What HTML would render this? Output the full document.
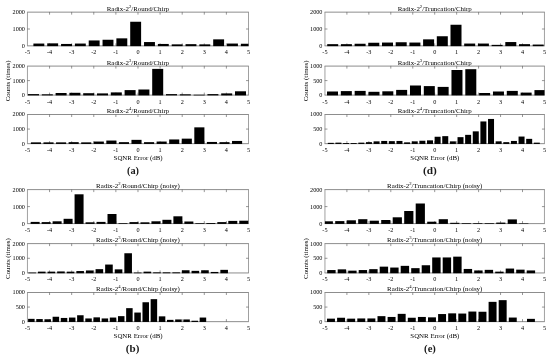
<!DOCTYPE html>
<html lang="en"><head><meta charset="utf-8"><title>SQNR Error histograms</title>
<style>
html,body{margin:0;padding:0;background:#fff;}
body{width:550px;height:360px;overflow:hidden;}
svg{display:block;will-change:transform;filter:grayscale(1);}
svg text{font-family:"Liberation Serif","DejaVu Serif",serif;fill:#000;}
.t{font-size:6.2px;}
.ti{font-size:6.9px;}
.sup{font-size:4.7px;}
.cap{font-size:10.5px;font-weight:bold;fill:#1a1a1a;}
.axh{fill:none;stroke:#808080;stroke-width:0.9;}
.axv{fill:none;stroke:#808080;stroke-width:0.75;}
.tk{stroke:#6a6a6a;stroke-width:0.7;}
.b{fill:#000;}
</style></head><body>
<svg width="550" height="360" viewBox="0 0 550 360">
<g>
<path class="axh" d="M27.1 12.15H248.85 M27.1 45.85H248.85"/>
<path class="axv" d="M27.45 12.15V45.85 M248.5 12.15V45.85"/>
<line class="tk" x1="49.55" y1="11.95" x2="49.55" y2="14.65"/>
<line class="tk" x1="49.55" y1="46.05" x2="49.55" y2="43.35"/>
<line class="tk" x1="71.66" y1="11.95" x2="71.66" y2="14.65"/>
<line class="tk" x1="71.66" y1="46.05" x2="71.66" y2="43.35"/>
<line class="tk" x1="93.77" y1="11.95" x2="93.77" y2="14.65"/>
<line class="tk" x1="93.77" y1="46.05" x2="93.77" y2="43.35"/>
<line class="tk" x1="115.87" y1="11.95" x2="115.87" y2="14.65"/>
<line class="tk" x1="115.87" y1="46.05" x2="115.87" y2="43.35"/>
<line class="tk" x1="137.97" y1="11.95" x2="137.97" y2="14.65"/>
<line class="tk" x1="137.97" y1="46.05" x2="137.97" y2="43.35"/>
<line class="tk" x1="160.08" y1="11.95" x2="160.08" y2="14.65"/>
<line class="tk" x1="160.08" y1="46.05" x2="160.08" y2="43.35"/>
<line class="tk" x1="182.19" y1="11.95" x2="182.19" y2="14.65"/>
<line class="tk" x1="182.19" y1="46.05" x2="182.19" y2="43.35"/>
<line class="tk" x1="204.29" y1="11.95" x2="204.29" y2="14.65"/>
<line class="tk" x1="204.29" y1="46.05" x2="204.29" y2="43.35"/>
<line class="tk" x1="226.39" y1="11.95" x2="226.39" y2="14.65"/>
<line class="tk" x1="226.39" y1="46.05" x2="226.39" y2="43.35"/>
<line class="tk" x1="27.25" y1="29" x2="29.95" y2="29"/>
<line class="tk" x1="248.7" y1="29" x2="246" y2="29"/>
<rect class="b" x="33.4" y="43.55" width="10.9" height="2.6"/>
<rect class="b" x="47.23" y="43.35" width="10.9" height="2.8"/>
<rect class="b" x="61.06" y="43.95" width="10.9" height="2.2"/>
<rect class="b" x="74.89" y="43.55" width="10.9" height="2.6"/>
<rect class="b" x="88.72" y="40.45" width="10.9" height="5.7"/>
<rect class="b" x="102.55" y="39.75" width="10.9" height="6.4"/>
<rect class="b" x="116.38" y="38.35" width="10.9" height="7.8"/>
<rect class="b" x="130.21" y="21.75" width="10.9" height="24.4"/>
<rect class="b" x="144.04" y="42.05" width="10.9" height="4.1"/>
<rect class="b" x="157.87" y="43.95" width="10.9" height="2.2"/>
<rect class="b" x="171.7" y="44.35" width="10.9" height="1.8"/>
<rect class="b" x="185.53" y="44.15" width="10.9" height="2"/>
<rect class="b" x="199.36" y="44.35" width="10.9" height="1.8"/>
<rect class="b" x="213.19" y="39.35" width="10.9" height="6.8"/>
<rect class="b" x="227.02" y="43.55" width="10.9" height="2.6"/>
<rect class="b" x="240.85" y="43.75" width="7.65" height="2.4"/>
<text class="t" x="27.45" y="53.95" text-anchor="middle">-5</text>
<text class="t" x="49.55" y="53.95" text-anchor="middle">-4</text>
<text class="t" x="71.66" y="53.95" text-anchor="middle">-3</text>
<text class="t" x="93.77" y="53.95" text-anchor="middle">-2</text>
<text class="t" x="115.87" y="53.95" text-anchor="middle">-1</text>
<text class="t" x="137.97" y="53.95" text-anchor="middle">0</text>
<text class="t" x="160.08" y="53.95" text-anchor="middle">1</text>
<text class="t" x="182.19" y="53.95" text-anchor="middle">2</text>
<text class="t" x="204.29" y="53.95" text-anchor="middle">3</text>
<text class="t" x="226.39" y="53.95" text-anchor="middle">4</text>
<text class="t" x="248.5" y="53.95" text-anchor="middle">5</text>
<text class="t" x="24.95" y="14.05" text-anchor="end">2000</text>
<text class="t" x="24.95" y="30.9" text-anchor="end">1000</text>
<text class="t" x="24.95" y="47.75" text-anchor="end">0</text>
<text class="ti" x="137.97" y="10.9" text-anchor="middle">Radix-2<tspan class="sup" dy="-2.9">2</tspan><tspan dy="2.9">/Round/Chirp</tspan></text>
</g>
<g>
<path class="axh" d="M27.1 66.1H248.85 M27.1 95.1H248.85"/>
<path class="axv" d="M27.45 66.1V95.1 M248.5 66.1V95.1"/>
<line class="tk" x1="49.55" y1="65.9" x2="49.55" y2="68.6"/>
<line class="tk" x1="49.55" y1="95.3" x2="49.55" y2="92.6"/>
<line class="tk" x1="71.66" y1="65.9" x2="71.66" y2="68.6"/>
<line class="tk" x1="71.66" y1="95.3" x2="71.66" y2="92.6"/>
<line class="tk" x1="93.77" y1="65.9" x2="93.77" y2="68.6"/>
<line class="tk" x1="93.77" y1="95.3" x2="93.77" y2="92.6"/>
<line class="tk" x1="115.87" y1="65.9" x2="115.87" y2="68.6"/>
<line class="tk" x1="115.87" y1="95.3" x2="115.87" y2="92.6"/>
<line class="tk" x1="137.97" y1="65.9" x2="137.97" y2="68.6"/>
<line class="tk" x1="137.97" y1="95.3" x2="137.97" y2="92.6"/>
<line class="tk" x1="160.08" y1="65.9" x2="160.08" y2="68.6"/>
<line class="tk" x1="160.08" y1="95.3" x2="160.08" y2="92.6"/>
<line class="tk" x1="182.19" y1="65.9" x2="182.19" y2="68.6"/>
<line class="tk" x1="182.19" y1="95.3" x2="182.19" y2="92.6"/>
<line class="tk" x1="204.29" y1="65.9" x2="204.29" y2="68.6"/>
<line class="tk" x1="204.29" y1="95.3" x2="204.29" y2="92.6"/>
<line class="tk" x1="226.39" y1="65.9" x2="226.39" y2="68.6"/>
<line class="tk" x1="226.39" y1="95.3" x2="226.39" y2="92.6"/>
<line class="tk" x1="27.25" y1="80.6" x2="29.95" y2="80.6"/>
<line class="tk" x1="248.7" y1="80.6" x2="246" y2="80.6"/>
<rect class="b" x="28" y="94.1" width="11" height="1.3"/>
<rect class="b" x="41.8" y="94.3" width="11" height="1.1"/>
<rect class="b" x="55.6" y="93" width="11" height="2.4"/>
<rect class="b" x="69.4" y="92.8" width="11" height="2.6"/>
<rect class="b" x="83.2" y="93.2" width="11" height="2.2"/>
<rect class="b" x="97" y="93.4" width="11" height="2"/>
<rect class="b" x="110.8" y="92.4" width="11" height="3"/>
<rect class="b" x="124.6" y="90.1" width="11" height="5.3"/>
<rect class="b" x="138.4" y="89.5" width="11" height="5.9"/>
<rect class="b" x="152.2" y="68.9" width="11" height="26.5"/>
<rect class="b" x="166" y="94.1" width="11" height="1.3"/>
<rect class="b" x="179.8" y="94.3" width="11" height="1.1"/>
<rect class="b" x="193.6" y="94.7" width="11" height="0.7"/>
<rect class="b" x="207.4" y="94.1" width="11" height="1.3"/>
<rect class="b" x="221.2" y="93.4" width="11" height="2"/>
<rect class="b" x="235" y="91.3" width="11" height="4.1"/>
<text class="t" x="27.45" y="103.55" text-anchor="middle">-5</text>
<text class="t" x="49.55" y="103.55" text-anchor="middle">-4</text>
<text class="t" x="71.66" y="103.55" text-anchor="middle">-3</text>
<text class="t" x="93.77" y="103.55" text-anchor="middle">-2</text>
<text class="t" x="115.87" y="103.55" text-anchor="middle">-1</text>
<text class="t" x="137.97" y="103.55" text-anchor="middle">0</text>
<text class="t" x="160.08" y="103.55" text-anchor="middle">1</text>
<text class="t" x="182.19" y="103.55" text-anchor="middle">2</text>
<text class="t" x="204.29" y="103.55" text-anchor="middle">3</text>
<text class="t" x="226.39" y="103.55" text-anchor="middle">4</text>
<text class="t" x="248.5" y="103.55" text-anchor="middle">5</text>
<text class="t" x="24.95" y="68" text-anchor="end">2000</text>
<text class="t" x="24.95" y="82.5" text-anchor="end">1000</text>
<text class="t" x="24.95" y="97" text-anchor="end">0</text>
<text class="ti" x="137.97" y="64.85" text-anchor="middle">Radix-2<tspan class="sup" dy="-2.9">3</tspan><tspan dy="2.9">/Round/Chirp</tspan></text>
</g>
<g>
<path class="axh" d="M27.1 114.5H248.85 M27.1 143.65H248.85"/>
<path class="axv" d="M27.45 114.5V143.65 M248.5 114.5V143.65"/>
<line class="tk" x1="49.55" y1="114.3" x2="49.55" y2="117"/>
<line class="tk" x1="49.55" y1="143.85" x2="49.55" y2="141.15"/>
<line class="tk" x1="71.66" y1="114.3" x2="71.66" y2="117"/>
<line class="tk" x1="71.66" y1="143.85" x2="71.66" y2="141.15"/>
<line class="tk" x1="93.77" y1="114.3" x2="93.77" y2="117"/>
<line class="tk" x1="93.77" y1="143.85" x2="93.77" y2="141.15"/>
<line class="tk" x1="115.87" y1="114.3" x2="115.87" y2="117"/>
<line class="tk" x1="115.87" y1="143.85" x2="115.87" y2="141.15"/>
<line class="tk" x1="137.97" y1="114.3" x2="137.97" y2="117"/>
<line class="tk" x1="137.97" y1="143.85" x2="137.97" y2="141.15"/>
<line class="tk" x1="160.08" y1="114.3" x2="160.08" y2="117"/>
<line class="tk" x1="160.08" y1="143.85" x2="160.08" y2="141.15"/>
<line class="tk" x1="182.19" y1="114.3" x2="182.19" y2="117"/>
<line class="tk" x1="182.19" y1="143.85" x2="182.19" y2="141.15"/>
<line class="tk" x1="204.29" y1="114.3" x2="204.29" y2="117"/>
<line class="tk" x1="204.29" y1="143.85" x2="204.29" y2="141.15"/>
<line class="tk" x1="226.39" y1="114.3" x2="226.39" y2="117"/>
<line class="tk" x1="226.39" y1="143.85" x2="226.39" y2="141.15"/>
<line class="tk" x1="27.25" y1="129.07" x2="29.95" y2="129.07"/>
<line class="tk" x1="248.7" y1="129.07" x2="246" y2="129.07"/>
<rect class="b" x="30.9" y="142.35" width="10.1" height="1.6"/>
<rect class="b" x="43.47" y="142.35" width="10.1" height="1.6"/>
<rect class="b" x="56.04" y="142.35" width="10.1" height="1.6"/>
<rect class="b" x="68.61" y="142.15" width="10.1" height="1.8"/>
<rect class="b" x="81.18" y="142.35" width="10.1" height="1.6"/>
<rect class="b" x="93.75" y="141.55" width="10.1" height="2.4"/>
<rect class="b" x="106.32" y="140.55" width="10.1" height="3.4"/>
<rect class="b" x="118.89" y="142.15" width="10.1" height="1.8"/>
<rect class="b" x="131.46" y="139.85" width="10.1" height="4.1"/>
<rect class="b" x="144.03" y="142.15" width="10.1" height="1.8"/>
<rect class="b" x="156.6" y="141.55" width="10.1" height="2.4"/>
<rect class="b" x="169.17" y="139.45" width="10.1" height="4.5"/>
<rect class="b" x="181.74" y="138.65" width="10.1" height="5.3"/>
<rect class="b" x="194.31" y="127.35" width="10.1" height="16.6"/>
<rect class="b" x="206.88" y="141.95" width="10.1" height="2"/>
<rect class="b" x="219.45" y="142.15" width="10.1" height="1.8"/>
<rect class="b" x="232.02" y="140.95" width="10.1" height="3"/>
<text class="t" x="27.45" y="152.1" text-anchor="middle">-5</text>
<text class="t" x="49.55" y="152.1" text-anchor="middle">-4</text>
<text class="t" x="71.66" y="152.1" text-anchor="middle">-3</text>
<text class="t" x="93.77" y="152.1" text-anchor="middle">-2</text>
<text class="t" x="115.87" y="152.1" text-anchor="middle">-1</text>
<text class="t" x="137.97" y="152.1" text-anchor="middle">0</text>
<text class="t" x="160.08" y="152.1" text-anchor="middle">1</text>
<text class="t" x="182.19" y="152.1" text-anchor="middle">2</text>
<text class="t" x="204.29" y="152.1" text-anchor="middle">3</text>
<text class="t" x="226.39" y="152.1" text-anchor="middle">4</text>
<text class="t" x="248.5" y="152.1" text-anchor="middle">5</text>
<text class="t" x="24.95" y="116.4" text-anchor="end">2000</text>
<text class="t" x="24.95" y="130.97" text-anchor="end">1000</text>
<text class="t" x="24.95" y="145.55" text-anchor="end">0</text>
<text class="ti" x="137.97" y="113.25" text-anchor="middle">Radix-2<tspan class="sup" dy="-2.9">4</tspan><tspan dy="2.9">/Round/Chirp</tspan></text>
</g>
<g>
<path class="axh" d="M324.6 12.15H544.8 M324.6 45.85H544.8"/>
<path class="axv" d="M324.95 12.15V45.85 M544.45 12.15V45.85"/>
<line class="tk" x1="346.9" y1="11.95" x2="346.9" y2="14.65"/>
<line class="tk" x1="346.9" y1="46.05" x2="346.9" y2="43.35"/>
<line class="tk" x1="368.85" y1="11.95" x2="368.85" y2="14.65"/>
<line class="tk" x1="368.85" y1="46.05" x2="368.85" y2="43.35"/>
<line class="tk" x1="390.8" y1="11.95" x2="390.8" y2="14.65"/>
<line class="tk" x1="390.8" y1="46.05" x2="390.8" y2="43.35"/>
<line class="tk" x1="412.75" y1="11.95" x2="412.75" y2="14.65"/>
<line class="tk" x1="412.75" y1="46.05" x2="412.75" y2="43.35"/>
<line class="tk" x1="434.7" y1="11.95" x2="434.7" y2="14.65"/>
<line class="tk" x1="434.7" y1="46.05" x2="434.7" y2="43.35"/>
<line class="tk" x1="456.65" y1="11.95" x2="456.65" y2="14.65"/>
<line class="tk" x1="456.65" y1="46.05" x2="456.65" y2="43.35"/>
<line class="tk" x1="478.6" y1="11.95" x2="478.6" y2="14.65"/>
<line class="tk" x1="478.6" y1="46.05" x2="478.6" y2="43.35"/>
<line class="tk" x1="500.55" y1="11.95" x2="500.55" y2="14.65"/>
<line class="tk" x1="500.55" y1="46.05" x2="500.55" y2="43.35"/>
<line class="tk" x1="522.5" y1="11.95" x2="522.5" y2="14.65"/>
<line class="tk" x1="522.5" y1="46.05" x2="522.5" y2="43.35"/>
<line class="tk" x1="324.75" y1="29" x2="327.45" y2="29"/>
<line class="tk" x1="544.65" y1="29" x2="541.95" y2="29"/>
<rect class="b" x="327.2" y="44.15" width="11" height="2"/>
<rect class="b" x="340.9" y="44.15" width="11" height="2"/>
<rect class="b" x="354.6" y="43.75" width="11" height="2.4"/>
<rect class="b" x="368.3" y="42.75" width="11" height="3.4"/>
<rect class="b" x="382" y="42.55" width="11" height="3.6"/>
<rect class="b" x="395.7" y="42.25" width="11" height="3.9"/>
<rect class="b" x="409.4" y="42.55" width="11" height="3.6"/>
<rect class="b" x="423.1" y="39.35" width="11" height="6.8"/>
<rect class="b" x="436.8" y="36.25" width="11" height="9.9"/>
<rect class="b" x="450.5" y="24.75" width="11" height="21.4"/>
<rect class="b" x="464.2" y="43.55" width="11" height="2.6"/>
<rect class="b" x="477.9" y="43.55" width="11" height="2.6"/>
<rect class="b" x="491.6" y="44.85" width="11" height="1.3"/>
<rect class="b" x="505.3" y="42.05" width="11" height="4.1"/>
<rect class="b" x="519" y="44.15" width="11" height="2"/>
<rect class="b" x="532.7" y="44.55" width="11" height="1.6"/>
<text class="t" x="324.95" y="53.95" text-anchor="middle">-5</text>
<text class="t" x="346.9" y="53.95" text-anchor="middle">-4</text>
<text class="t" x="368.85" y="53.95" text-anchor="middle">-3</text>
<text class="t" x="390.8" y="53.95" text-anchor="middle">-2</text>
<text class="t" x="412.75" y="53.95" text-anchor="middle">-1</text>
<text class="t" x="434.7" y="53.95" text-anchor="middle">0</text>
<text class="t" x="456.65" y="53.95" text-anchor="middle">1</text>
<text class="t" x="478.6" y="53.95" text-anchor="middle">2</text>
<text class="t" x="500.55" y="53.95" text-anchor="middle">3</text>
<text class="t" x="522.5" y="53.95" text-anchor="middle">4</text>
<text class="t" x="544.45" y="53.95" text-anchor="middle">5</text>
<text class="t" x="322.45" y="14.05" text-anchor="end">2000</text>
<text class="t" x="322.45" y="30.9" text-anchor="end">1000</text>
<text class="t" x="322.45" y="47.75" text-anchor="end">0</text>
<text class="ti" x="434.7" y="10.9" text-anchor="middle">Radix-2<tspan class="sup" dy="-2.9">2</tspan><tspan dy="2.9">/Truncation/Chirp</tspan></text>
</g>
<g>
<path class="axh" d="M324.6 66.1H544.8 M324.6 95.1H544.8"/>
<path class="axv" d="M324.95 66.1V95.1 M544.45 66.1V95.1"/>
<line class="tk" x1="346.9" y1="65.9" x2="346.9" y2="68.6"/>
<line class="tk" x1="346.9" y1="95.3" x2="346.9" y2="92.6"/>
<line class="tk" x1="368.85" y1="65.9" x2="368.85" y2="68.6"/>
<line class="tk" x1="368.85" y1="95.3" x2="368.85" y2="92.6"/>
<line class="tk" x1="390.8" y1="65.9" x2="390.8" y2="68.6"/>
<line class="tk" x1="390.8" y1="95.3" x2="390.8" y2="92.6"/>
<line class="tk" x1="412.75" y1="65.9" x2="412.75" y2="68.6"/>
<line class="tk" x1="412.75" y1="95.3" x2="412.75" y2="92.6"/>
<line class="tk" x1="434.7" y1="65.9" x2="434.7" y2="68.6"/>
<line class="tk" x1="434.7" y1="95.3" x2="434.7" y2="92.6"/>
<line class="tk" x1="456.65" y1="65.9" x2="456.65" y2="68.6"/>
<line class="tk" x1="456.65" y1="95.3" x2="456.65" y2="92.6"/>
<line class="tk" x1="478.6" y1="65.9" x2="478.6" y2="68.6"/>
<line class="tk" x1="478.6" y1="95.3" x2="478.6" y2="92.6"/>
<line class="tk" x1="500.55" y1="65.9" x2="500.55" y2="68.6"/>
<line class="tk" x1="500.55" y1="95.3" x2="500.55" y2="92.6"/>
<line class="tk" x1="522.5" y1="65.9" x2="522.5" y2="68.6"/>
<line class="tk" x1="522.5" y1="95.3" x2="522.5" y2="92.6"/>
<line class="tk" x1="324.75" y1="80.6" x2="327.45" y2="80.6"/>
<line class="tk" x1="544.65" y1="80.6" x2="541.95" y2="80.6"/>
<rect class="b" x="327" y="91.5" width="11" height="3.9"/>
<rect class="b" x="340.83" y="91.1" width="11" height="4.3"/>
<rect class="b" x="354.66" y="90.9" width="11" height="4.5"/>
<rect class="b" x="368.49" y="91.8" width="11" height="3.6"/>
<rect class="b" x="382.32" y="91.3" width="11" height="4.1"/>
<rect class="b" x="396.15" y="89.9" width="11" height="5.5"/>
<rect class="b" x="409.98" y="85.5" width="11" height="9.9"/>
<rect class="b" x="423.81" y="86.1" width="11" height="9.3"/>
<rect class="b" x="437.64" y="86.9" width="11" height="8.5"/>
<rect class="b" x="451.47" y="70" width="11" height="25.4"/>
<rect class="b" x="465.3" y="69.2" width="11" height="26.2"/>
<rect class="b" x="479.13" y="93" width="11" height="2.4"/>
<rect class="b" x="492.96" y="91.5" width="11" height="3.9"/>
<rect class="b" x="506.79" y="90.9" width="11" height="4.5"/>
<rect class="b" x="520.62" y="92.6" width="11" height="2.8"/>
<rect class="b" x="534.45" y="90.1" width="10" height="5.3"/>
<text class="t" x="324.95" y="103.55" text-anchor="middle">-5</text>
<text class="t" x="346.9" y="103.55" text-anchor="middle">-4</text>
<text class="t" x="368.85" y="103.55" text-anchor="middle">-3</text>
<text class="t" x="390.8" y="103.55" text-anchor="middle">-2</text>
<text class="t" x="412.75" y="103.55" text-anchor="middle">-1</text>
<text class="t" x="434.7" y="103.55" text-anchor="middle">0</text>
<text class="t" x="456.65" y="103.55" text-anchor="middle">1</text>
<text class="t" x="478.6" y="103.55" text-anchor="middle">2</text>
<text class="t" x="500.55" y="103.55" text-anchor="middle">3</text>
<text class="t" x="522.5" y="103.55" text-anchor="middle">4</text>
<text class="t" x="544.45" y="103.55" text-anchor="middle">5</text>
<text class="t" x="322.45" y="68" text-anchor="end">1000</text>
<text class="t" x="322.45" y="82.5" text-anchor="end">500</text>
<text class="t" x="322.45" y="97" text-anchor="end">0</text>
<text class="ti" x="434.7" y="64.85" text-anchor="middle">Radix-2<tspan class="sup" dy="-2.9">3</tspan><tspan dy="2.9">/Truncation/Chirp</tspan></text>
</g>
<g>
<path class="axh" d="M324.6 114.5H544.8 M324.6 143.65H544.8"/>
<path class="axv" d="M324.95 114.5V143.65 M544.45 114.5V143.65"/>
<line class="tk" x1="346.9" y1="114.3" x2="346.9" y2="117"/>
<line class="tk" x1="346.9" y1="143.85" x2="346.9" y2="141.15"/>
<line class="tk" x1="368.85" y1="114.3" x2="368.85" y2="117"/>
<line class="tk" x1="368.85" y1="143.85" x2="368.85" y2="141.15"/>
<line class="tk" x1="390.8" y1="114.3" x2="390.8" y2="117"/>
<line class="tk" x1="390.8" y1="143.85" x2="390.8" y2="141.15"/>
<line class="tk" x1="412.75" y1="114.3" x2="412.75" y2="117"/>
<line class="tk" x1="412.75" y1="143.85" x2="412.75" y2="141.15"/>
<line class="tk" x1="434.7" y1="114.3" x2="434.7" y2="117"/>
<line class="tk" x1="434.7" y1="143.85" x2="434.7" y2="141.15"/>
<line class="tk" x1="456.65" y1="114.3" x2="456.65" y2="117"/>
<line class="tk" x1="456.65" y1="143.85" x2="456.65" y2="141.15"/>
<line class="tk" x1="478.6" y1="114.3" x2="478.6" y2="117"/>
<line class="tk" x1="478.6" y1="143.85" x2="478.6" y2="141.15"/>
<line class="tk" x1="500.55" y1="114.3" x2="500.55" y2="117"/>
<line class="tk" x1="500.55" y1="143.85" x2="500.55" y2="141.15"/>
<line class="tk" x1="522.5" y1="114.3" x2="522.5" y2="117"/>
<line class="tk" x1="522.5" y1="143.85" x2="522.5" y2="141.15"/>
<line class="tk" x1="324.75" y1="129.07" x2="327.45" y2="129.07"/>
<line class="tk" x1="544.65" y1="129.07" x2="541.95" y2="129.07"/>
<rect class="b" x="327.8" y="142.85" width="6" height="1.1"/>
<rect class="b" x="335.43" y="142.65" width="6" height="1.3"/>
<rect class="b" x="343.06" y="143.05" width="6" height="0.9"/>
<rect class="b" x="350.69" y="143.05" width="6" height="0.9"/>
<rect class="b" x="358.32" y="142.65" width="6" height="1.3"/>
<rect class="b" x="365.95" y="142.15" width="6" height="1.8"/>
<rect class="b" x="373.58" y="141.35" width="6" height="2.6"/>
<rect class="b" x="381.21" y="140.95" width="6" height="3"/>
<rect class="b" x="388.84" y="141.15" width="6" height="2.8"/>
<rect class="b" x="396.47" y="140.95" width="6" height="3"/>
<rect class="b" x="404.1" y="142.35" width="6" height="1.6"/>
<rect class="b" x="411.73" y="141.35" width="6" height="2.6"/>
<rect class="b" x="419.36" y="140.75" width="6" height="3.2"/>
<rect class="b" x="426.99" y="140.35" width="6" height="3.6"/>
<rect class="b" x="434.62" y="136.75" width="6" height="7.2"/>
<rect class="b" x="442.25" y="136.15" width="6" height="7.8"/>
<rect class="b" x="449.88" y="141.35" width="6" height="2.6"/>
<rect class="b" x="457.51" y="137.15" width="6" height="6.8"/>
<rect class="b" x="465.14" y="134.85" width="6" height="9.1"/>
<rect class="b" x="472.77" y="131.35" width="6" height="12.6"/>
<rect class="b" x="480.4" y="121.45" width="6" height="22.5"/>
<rect class="b" x="488.03" y="118.95" width="6" height="25"/>
<rect class="b" x="495.66" y="141.35" width="6" height="2.6"/>
<rect class="b" x="503.29" y="142.15" width="6" height="1.8"/>
<rect class="b" x="510.92" y="140.95" width="6" height="3"/>
<rect class="b" x="518.55" y="136.55" width="6" height="7.4"/>
<rect class="b" x="526.18" y="138.85" width="6" height="5.1"/>
<rect class="b" x="533.81" y="142.65" width="6" height="1.3"/>
<text class="t" x="324.95" y="152.1" text-anchor="middle">-5</text>
<text class="t" x="346.9" y="152.1" text-anchor="middle">-4</text>
<text class="t" x="368.85" y="152.1" text-anchor="middle">-3</text>
<text class="t" x="390.8" y="152.1" text-anchor="middle">-2</text>
<text class="t" x="412.75" y="152.1" text-anchor="middle">-1</text>
<text class="t" x="434.7" y="152.1" text-anchor="middle">0</text>
<text class="t" x="456.65" y="152.1" text-anchor="middle">1</text>
<text class="t" x="478.6" y="152.1" text-anchor="middle">2</text>
<text class="t" x="500.55" y="152.1" text-anchor="middle">3</text>
<text class="t" x="522.5" y="152.1" text-anchor="middle">4</text>
<text class="t" x="544.45" y="152.1" text-anchor="middle">5</text>
<text class="t" x="322.45" y="116.4" text-anchor="end">1000</text>
<text class="t" x="322.45" y="130.97" text-anchor="end">500</text>
<text class="t" x="322.45" y="145.55" text-anchor="end">0</text>
<text class="ti" x="434.7" y="113.25" text-anchor="middle">Radix-2<tspan class="sup" dy="-2.9">4</tspan><tspan dy="2.9">/Truncation/Chirp</tspan></text>
</g>
<g>
<path class="axh" d="M27.1 189.6H248.85 M27.1 223.6H248.85"/>
<path class="axv" d="M27.45 189.6V223.6 M248.5 189.6V223.6"/>
<line class="tk" x1="49.55" y1="189.4" x2="49.55" y2="192.1"/>
<line class="tk" x1="49.55" y1="223.8" x2="49.55" y2="221.1"/>
<line class="tk" x1="71.66" y1="189.4" x2="71.66" y2="192.1"/>
<line class="tk" x1="71.66" y1="223.8" x2="71.66" y2="221.1"/>
<line class="tk" x1="93.77" y1="189.4" x2="93.77" y2="192.1"/>
<line class="tk" x1="93.77" y1="223.8" x2="93.77" y2="221.1"/>
<line class="tk" x1="115.87" y1="189.4" x2="115.87" y2="192.1"/>
<line class="tk" x1="115.87" y1="223.8" x2="115.87" y2="221.1"/>
<line class="tk" x1="137.97" y1="189.4" x2="137.97" y2="192.1"/>
<line class="tk" x1="137.97" y1="223.8" x2="137.97" y2="221.1"/>
<line class="tk" x1="160.08" y1="189.4" x2="160.08" y2="192.1"/>
<line class="tk" x1="160.08" y1="223.8" x2="160.08" y2="221.1"/>
<line class="tk" x1="182.19" y1="189.4" x2="182.19" y2="192.1"/>
<line class="tk" x1="182.19" y1="223.8" x2="182.19" y2="221.1"/>
<line class="tk" x1="204.29" y1="189.4" x2="204.29" y2="192.1"/>
<line class="tk" x1="204.29" y1="223.8" x2="204.29" y2="221.1"/>
<line class="tk" x1="226.39" y1="189.4" x2="226.39" y2="192.1"/>
<line class="tk" x1="226.39" y1="223.8" x2="226.39" y2="221.1"/>
<line class="tk" x1="27.25" y1="206.6" x2="29.95" y2="206.6"/>
<line class="tk" x1="248.7" y1="206.6" x2="246" y2="206.6"/>
<rect class="b" x="30.65" y="221.9" width="9" height="2"/>
<rect class="b" x="41.63" y="222.1" width="9" height="1.8"/>
<rect class="b" x="52.61" y="221.3" width="9" height="2.6"/>
<rect class="b" x="63.59" y="218.8" width="9" height="5.1"/>
<rect class="b" x="74.57" y="194.3" width="9" height="29.6"/>
<rect class="b" x="85.55" y="222.3" width="9" height="1.6"/>
<rect class="b" x="96.53" y="221.9" width="9" height="2"/>
<rect class="b" x="107.51" y="214" width="9" height="9.9"/>
<rect class="b" x="118.49" y="223.2" width="9" height="0.7"/>
<rect class="b" x="129.47" y="222.1" width="9" height="1.8"/>
<rect class="b" x="140.45" y="222.3" width="9" height="1.6"/>
<rect class="b" x="151.43" y="221.3" width="9" height="2.6"/>
<rect class="b" x="162.41" y="219.8" width="9" height="4.1"/>
<rect class="b" x="173.39" y="216.3" width="9" height="7.6"/>
<rect class="b" x="184.37" y="221.5" width="9" height="2.4"/>
<rect class="b" x="195.35" y="223.2" width="9" height="0.7"/>
<rect class="b" x="206.33" y="223" width="9" height="0.9"/>
<rect class="b" x="217.31" y="222.1" width="9" height="1.8"/>
<rect class="b" x="228.29" y="220.9" width="9" height="3"/>
<rect class="b" x="239.27" y="220.7" width="9" height="3.2"/>
<text class="t" x="27.45" y="232.05" text-anchor="middle">-5</text>
<text class="t" x="49.55" y="232.05" text-anchor="middle">-4</text>
<text class="t" x="71.66" y="232.05" text-anchor="middle">-3</text>
<text class="t" x="93.77" y="232.05" text-anchor="middle">-2</text>
<text class="t" x="115.87" y="232.05" text-anchor="middle">-1</text>
<text class="t" x="137.97" y="232.05" text-anchor="middle">0</text>
<text class="t" x="160.08" y="232.05" text-anchor="middle">1</text>
<text class="t" x="182.19" y="232.05" text-anchor="middle">2</text>
<text class="t" x="204.29" y="232.05" text-anchor="middle">3</text>
<text class="t" x="226.39" y="232.05" text-anchor="middle">4</text>
<text class="t" x="248.5" y="232.05" text-anchor="middle">5</text>
<text class="t" x="24.95" y="191.5" text-anchor="end">2000</text>
<text class="t" x="24.95" y="208.5" text-anchor="end">1000</text>
<text class="t" x="24.95" y="225.5" text-anchor="end">0</text>
<text class="ti" x="137.97" y="188.35" text-anchor="middle">Radix-2<tspan class="sup" dy="-2.9">2</tspan><tspan dy="2.9">/Round/Chirp (noisy)</tspan></text>
</g>
<g>
<path class="axh" d="M27.1 243.6H248.85 M27.1 272.95H248.85"/>
<path class="axv" d="M27.45 243.6V272.95 M248.5 243.6V272.95"/>
<line class="tk" x1="49.55" y1="243.4" x2="49.55" y2="246.1"/>
<line class="tk" x1="49.55" y1="273.15" x2="49.55" y2="270.45"/>
<line class="tk" x1="71.66" y1="243.4" x2="71.66" y2="246.1"/>
<line class="tk" x1="71.66" y1="273.15" x2="71.66" y2="270.45"/>
<line class="tk" x1="93.77" y1="243.4" x2="93.77" y2="246.1"/>
<line class="tk" x1="93.77" y1="273.15" x2="93.77" y2="270.45"/>
<line class="tk" x1="115.87" y1="243.4" x2="115.87" y2="246.1"/>
<line class="tk" x1="115.87" y1="273.15" x2="115.87" y2="270.45"/>
<line class="tk" x1="137.97" y1="243.4" x2="137.97" y2="246.1"/>
<line class="tk" x1="137.97" y1="273.15" x2="137.97" y2="270.45"/>
<line class="tk" x1="160.08" y1="243.4" x2="160.08" y2="246.1"/>
<line class="tk" x1="160.08" y1="273.15" x2="160.08" y2="270.45"/>
<line class="tk" x1="182.19" y1="243.4" x2="182.19" y2="246.1"/>
<line class="tk" x1="182.19" y1="273.15" x2="182.19" y2="270.45"/>
<line class="tk" x1="204.29" y1="243.4" x2="204.29" y2="246.1"/>
<line class="tk" x1="204.29" y1="273.15" x2="204.29" y2="270.45"/>
<line class="tk" x1="226.39" y1="243.4" x2="226.39" y2="246.1"/>
<line class="tk" x1="226.39" y1="273.15" x2="226.39" y2="270.45"/>
<line class="tk" x1="27.25" y1="258.27" x2="29.95" y2="258.27"/>
<line class="tk" x1="248.7" y1="258.27" x2="246" y2="258.27"/>
<rect class="b" x="28.35" y="272.55" width="7.6" height="0.7"/>
<rect class="b" x="37.95" y="271.65" width="7.6" height="1.6"/>
<rect class="b" x="47.55" y="271.65" width="7.6" height="1.6"/>
<rect class="b" x="57.15" y="271.45" width="7.6" height="1.8"/>
<rect class="b" x="66.75" y="271.65" width="7.6" height="1.6"/>
<rect class="b" x="76.35" y="271.05" width="7.6" height="2.2"/>
<rect class="b" x="85.95" y="270.45" width="7.6" height="2.8"/>
<rect class="b" x="95.55" y="269.15" width="7.6" height="4.1"/>
<rect class="b" x="105.15" y="264.55" width="7.6" height="8.7"/>
<rect class="b" x="114.75" y="269.35" width="7.6" height="3.9"/>
<rect class="b" x="124.35" y="253.25" width="7.6" height="20"/>
<rect class="b" x="133.95" y="272.55" width="7.6" height="0.7"/>
<rect class="b" x="143.55" y="271.65" width="7.6" height="1.6"/>
<rect class="b" x="153.15" y="272.35" width="7.6" height="0.9"/>
<rect class="b" x="162.75" y="272.35" width="7.6" height="0.9"/>
<rect class="b" x="172.35" y="272.35" width="7.6" height="0.9"/>
<rect class="b" x="181.95" y="270.25" width="7.6" height="3"/>
<rect class="b" x="191.55" y="270.85" width="7.6" height="2.4"/>
<rect class="b" x="201.15" y="270.25" width="7.6" height="3"/>
<rect class="b" x="210.75" y="271.95" width="7.6" height="1.3"/>
<rect class="b" x="220.35" y="269.85" width="7.6" height="3.4"/>
<text class="t" x="27.45" y="281.4" text-anchor="middle">-5</text>
<text class="t" x="49.55" y="281.4" text-anchor="middle">-4</text>
<text class="t" x="71.66" y="281.4" text-anchor="middle">-3</text>
<text class="t" x="93.77" y="281.4" text-anchor="middle">-2</text>
<text class="t" x="115.87" y="281.4" text-anchor="middle">-1</text>
<text class="t" x="137.97" y="281.4" text-anchor="middle">0</text>
<text class="t" x="160.08" y="281.4" text-anchor="middle">1</text>
<text class="t" x="182.19" y="281.4" text-anchor="middle">2</text>
<text class="t" x="204.29" y="281.4" text-anchor="middle">3</text>
<text class="t" x="226.39" y="281.4" text-anchor="middle">4</text>
<text class="t" x="248.5" y="281.4" text-anchor="middle">5</text>
<text class="t" x="24.95" y="245.5" text-anchor="end">2000</text>
<text class="t" x="24.95" y="260.17" text-anchor="end">1000</text>
<text class="t" x="24.95" y="274.85" text-anchor="end">0</text>
<text class="ti" x="137.97" y="242.35" text-anchor="middle">Radix-2<tspan class="sup" dy="-2.9">3</tspan><tspan dy="2.9">/Round/Chirp (noisy)</tspan></text>
</g>
<g>
<path class="axh" d="M27.1 292.5H248.85 M27.1 321.65H248.85"/>
<path class="axv" d="M27.45 292.5V321.65 M248.5 292.5V321.65"/>
<line class="tk" x1="49.55" y1="292.3" x2="49.55" y2="295"/>
<line class="tk" x1="49.55" y1="321.85" x2="49.55" y2="319.15"/>
<line class="tk" x1="71.66" y1="292.3" x2="71.66" y2="295"/>
<line class="tk" x1="71.66" y1="321.85" x2="71.66" y2="319.15"/>
<line class="tk" x1="93.77" y1="292.3" x2="93.77" y2="295"/>
<line class="tk" x1="93.77" y1="321.85" x2="93.77" y2="319.15"/>
<line class="tk" x1="115.87" y1="292.3" x2="115.87" y2="295"/>
<line class="tk" x1="115.87" y1="321.85" x2="115.87" y2="319.15"/>
<line class="tk" x1="137.97" y1="292.3" x2="137.97" y2="295"/>
<line class="tk" x1="137.97" y1="321.85" x2="137.97" y2="319.15"/>
<line class="tk" x1="160.08" y1="292.3" x2="160.08" y2="295"/>
<line class="tk" x1="160.08" y1="321.85" x2="160.08" y2="319.15"/>
<line class="tk" x1="182.19" y1="292.3" x2="182.19" y2="295"/>
<line class="tk" x1="182.19" y1="321.85" x2="182.19" y2="319.15"/>
<line class="tk" x1="204.29" y1="292.3" x2="204.29" y2="295"/>
<line class="tk" x1="204.29" y1="321.85" x2="204.29" y2="319.15"/>
<line class="tk" x1="226.39" y1="292.3" x2="226.39" y2="295"/>
<line class="tk" x1="226.39" y1="321.85" x2="226.39" y2="319.15"/>
<line class="tk" x1="27.25" y1="307.07" x2="29.95" y2="307.07"/>
<line class="tk" x1="248.7" y1="307.07" x2="246" y2="307.07"/>
<rect class="b" x="28.1" y="318.85" width="6.5" height="3.1"/>
<rect class="b" x="36.27" y="319.05" width="6.5" height="2.9"/>
<rect class="b" x="44.44" y="319.25" width="6.5" height="2.7"/>
<rect class="b" x="52.61" y="316.75" width="6.5" height="5.2"/>
<rect class="b" x="60.78" y="317.95" width="6.5" height="4"/>
<rect class="b" x="68.95" y="317.55" width="6.5" height="4.4"/>
<rect class="b" x="77.12" y="315.25" width="6.5" height="6.7"/>
<rect class="b" x="85.29" y="318.45" width="6.5" height="3.5"/>
<rect class="b" x="93.46" y="317.35" width="6.5" height="4.6"/>
<rect class="b" x="101.63" y="318.45" width="6.5" height="3.5"/>
<rect class="b" x="109.8" y="317.55" width="6.5" height="4.4"/>
<rect class="b" x="117.97" y="316.15" width="6.5" height="5.8"/>
<rect class="b" x="126.14" y="308.15" width="6.5" height="13.8"/>
<rect class="b" x="134.31" y="312.55" width="6.5" height="9.4"/>
<rect class="b" x="142.48" y="302.25" width="6.5" height="19.7"/>
<rect class="b" x="150.65" y="299.15" width="6.5" height="22.8"/>
<rect class="b" x="158.82" y="316.35" width="6.5" height="5.6"/>
<rect class="b" x="166.99" y="319.85" width="6.5" height="2.1"/>
<rect class="b" x="175.16" y="319.45" width="6.5" height="2.5"/>
<rect class="b" x="183.33" y="319.45" width="6.5" height="2.5"/>
<rect class="b" x="191.5" y="320.75" width="6.5" height="1.2"/>
<rect class="b" x="199.67" y="317.55" width="6.5" height="4.4"/>
<text class="t" x="27.45" y="330.1" text-anchor="middle">-5</text>
<text class="t" x="49.55" y="330.1" text-anchor="middle">-4</text>
<text class="t" x="71.66" y="330.1" text-anchor="middle">-3</text>
<text class="t" x="93.77" y="330.1" text-anchor="middle">-2</text>
<text class="t" x="115.87" y="330.1" text-anchor="middle">-1</text>
<text class="t" x="137.97" y="330.1" text-anchor="middle">0</text>
<text class="t" x="160.08" y="330.1" text-anchor="middle">1</text>
<text class="t" x="182.19" y="330.1" text-anchor="middle">2</text>
<text class="t" x="204.29" y="330.1" text-anchor="middle">3</text>
<text class="t" x="226.39" y="330.1" text-anchor="middle">4</text>
<text class="t" x="248.5" y="330.1" text-anchor="middle">5</text>
<text class="t" x="24.95" y="294.4" text-anchor="end">1000</text>
<text class="t" x="24.95" y="308.97" text-anchor="end">500</text>
<text class="t" x="24.95" y="323.55" text-anchor="end">0</text>
<text class="ti" x="137.97" y="291.25" text-anchor="middle">Radix-2<tspan class="sup" dy="-2.9">4</tspan><tspan dy="2.9">/Round/Chirp (noisy)</tspan></text>
</g>
<g>
<path class="axh" d="M324.6 189.6H544.8 M324.6 223.6H544.8"/>
<path class="axv" d="M324.95 189.6V223.6 M544.45 189.6V223.6"/>
<line class="tk" x1="346.9" y1="189.4" x2="346.9" y2="192.1"/>
<line class="tk" x1="346.9" y1="223.8" x2="346.9" y2="221.1"/>
<line class="tk" x1="368.85" y1="189.4" x2="368.85" y2="192.1"/>
<line class="tk" x1="368.85" y1="223.8" x2="368.85" y2="221.1"/>
<line class="tk" x1="390.8" y1="189.4" x2="390.8" y2="192.1"/>
<line class="tk" x1="390.8" y1="223.8" x2="390.8" y2="221.1"/>
<line class="tk" x1="412.75" y1="189.4" x2="412.75" y2="192.1"/>
<line class="tk" x1="412.75" y1="223.8" x2="412.75" y2="221.1"/>
<line class="tk" x1="434.7" y1="189.4" x2="434.7" y2="192.1"/>
<line class="tk" x1="434.7" y1="223.8" x2="434.7" y2="221.1"/>
<line class="tk" x1="456.65" y1="189.4" x2="456.65" y2="192.1"/>
<line class="tk" x1="456.65" y1="223.8" x2="456.65" y2="221.1"/>
<line class="tk" x1="478.6" y1="189.4" x2="478.6" y2="192.1"/>
<line class="tk" x1="478.6" y1="223.8" x2="478.6" y2="221.1"/>
<line class="tk" x1="500.55" y1="189.4" x2="500.55" y2="192.1"/>
<line class="tk" x1="500.55" y1="223.8" x2="500.55" y2="221.1"/>
<line class="tk" x1="522.5" y1="189.4" x2="522.5" y2="192.1"/>
<line class="tk" x1="522.5" y1="223.8" x2="522.5" y2="221.1"/>
<line class="tk" x1="324.75" y1="206.6" x2="327.45" y2="206.6"/>
<line class="tk" x1="544.65" y1="206.6" x2="541.95" y2="206.6"/>
<rect class="b" x="324.95" y="221.3" width="7.95" height="2.6"/>
<rect class="b" x="335.2" y="221.1" width="9.2" height="2.8"/>
<rect class="b" x="346.7" y="220.3" width="9.2" height="3.6"/>
<rect class="b" x="358.2" y="219.2" width="9.2" height="4.7"/>
<rect class="b" x="369.7" y="220.7" width="9.2" height="3.2"/>
<rect class="b" x="381.2" y="220" width="9.2" height="3.9"/>
<rect class="b" x="392.7" y="217.3" width="9.2" height="6.6"/>
<rect class="b" x="404.2" y="211" width="9.2" height="12.9"/>
<rect class="b" x="415.7" y="203.5" width="9.2" height="20.4"/>
<rect class="b" x="427.2" y="221.7" width="9.2" height="2.2"/>
<rect class="b" x="438.7" y="219.2" width="9.2" height="4.7"/>
<rect class="b" x="450.2" y="222.8" width="9.2" height="1.1"/>
<rect class="b" x="461.7" y="223.2" width="9.2" height="0.7"/>
<rect class="b" x="473.2" y="223.2" width="9.2" height="0.7"/>
<rect class="b" x="484.7" y="223.2" width="9.2" height="0.7"/>
<rect class="b" x="496.2" y="222.6" width="9.2" height="1.3"/>
<rect class="b" x="507.7" y="219.4" width="9.2" height="4.5"/>
<rect class="b" x="519.2" y="223.4" width="9.2" height="0.5"/>
<text class="t" x="324.95" y="232.05" text-anchor="middle">-5</text>
<text class="t" x="346.9" y="232.05" text-anchor="middle">-4</text>
<text class="t" x="368.85" y="232.05" text-anchor="middle">-3</text>
<text class="t" x="390.8" y="232.05" text-anchor="middle">-2</text>
<text class="t" x="412.75" y="232.05" text-anchor="middle">-1</text>
<text class="t" x="434.7" y="232.05" text-anchor="middle">0</text>
<text class="t" x="456.65" y="232.05" text-anchor="middle">1</text>
<text class="t" x="478.6" y="232.05" text-anchor="middle">2</text>
<text class="t" x="500.55" y="232.05" text-anchor="middle">3</text>
<text class="t" x="522.5" y="232.05" text-anchor="middle">4</text>
<text class="t" x="544.45" y="232.05" text-anchor="middle">5</text>
<text class="t" x="322.45" y="191.5" text-anchor="end">2000</text>
<text class="t" x="322.45" y="208.5" text-anchor="end">1000</text>
<text class="t" x="322.45" y="225.5" text-anchor="end">0</text>
<text class="ti" x="434.7" y="188.35" text-anchor="middle">Radix-2<tspan class="sup" dy="-2.9">2</tspan><tspan dy="2.9">/Truncation/Chirp (noisy)</tspan></text>
</g>
<g>
<path class="axh" d="M324.6 243.6H544.8 M324.6 272.95H544.8"/>
<path class="axv" d="M324.95 243.6V272.95 M544.45 243.6V272.95"/>
<line class="tk" x1="346.9" y1="243.4" x2="346.9" y2="246.1"/>
<line class="tk" x1="346.9" y1="273.15" x2="346.9" y2="270.45"/>
<line class="tk" x1="368.85" y1="243.4" x2="368.85" y2="246.1"/>
<line class="tk" x1="368.85" y1="273.15" x2="368.85" y2="270.45"/>
<line class="tk" x1="390.8" y1="243.4" x2="390.8" y2="246.1"/>
<line class="tk" x1="390.8" y1="273.15" x2="390.8" y2="270.45"/>
<line class="tk" x1="412.75" y1="243.4" x2="412.75" y2="246.1"/>
<line class="tk" x1="412.75" y1="273.15" x2="412.75" y2="270.45"/>
<line class="tk" x1="434.7" y1="243.4" x2="434.7" y2="246.1"/>
<line class="tk" x1="434.7" y1="273.15" x2="434.7" y2="270.45"/>
<line class="tk" x1="456.65" y1="243.4" x2="456.65" y2="246.1"/>
<line class="tk" x1="456.65" y1="273.15" x2="456.65" y2="270.45"/>
<line class="tk" x1="478.6" y1="243.4" x2="478.6" y2="246.1"/>
<line class="tk" x1="478.6" y1="273.15" x2="478.6" y2="270.45"/>
<line class="tk" x1="500.55" y1="243.4" x2="500.55" y2="246.1"/>
<line class="tk" x1="500.55" y1="273.15" x2="500.55" y2="270.45"/>
<line class="tk" x1="522.5" y1="243.4" x2="522.5" y2="246.1"/>
<line class="tk" x1="522.5" y1="273.15" x2="522.5" y2="270.45"/>
<line class="tk" x1="324.75" y1="258.27" x2="327.45" y2="258.27"/>
<line class="tk" x1="544.65" y1="258.27" x2="541.95" y2="258.27"/>
<rect class="b" x="327.2" y="270.05" width="8.4" height="3.2"/>
<rect class="b" x="337.7" y="269.35" width="8.4" height="3.9"/>
<rect class="b" x="348.2" y="270.65" width="8.4" height="2.6"/>
<rect class="b" x="358.7" y="270.05" width="8.4" height="3.2"/>
<rect class="b" x="369.2" y="269.15" width="8.4" height="4.1"/>
<rect class="b" x="379.7" y="266.65" width="8.4" height="6.6"/>
<rect class="b" x="390.2" y="267.55" width="8.4" height="5.7"/>
<rect class="b" x="400.7" y="265.85" width="8.4" height="7.4"/>
<rect class="b" x="411.2" y="268.15" width="8.4" height="5.1"/>
<rect class="b" x="421.7" y="265.25" width="8.4" height="8"/>
<rect class="b" x="432.2" y="257.45" width="8.4" height="15.8"/>
<rect class="b" x="442.7" y="257.45" width="8.4" height="15.8"/>
<rect class="b" x="453.2" y="256.65" width="8.4" height="16.6"/>
<rect class="b" x="463.7" y="268.95" width="8.4" height="4.3"/>
<rect class="b" x="474.2" y="270.45" width="8.4" height="2.8"/>
<rect class="b" x="484.7" y="269.85" width="8.4" height="3.4"/>
<rect class="b" x="495.2" y="271.65" width="8.4" height="1.6"/>
<rect class="b" x="505.7" y="268.55" width="8.4" height="4.7"/>
<rect class="b" x="516.2" y="269.65" width="8.4" height="3.6"/>
<rect class="b" x="526.7" y="270.45" width="8.4" height="2.8"/>
<text class="t" x="324.95" y="281.4" text-anchor="middle">-5</text>
<text class="t" x="346.9" y="281.4" text-anchor="middle">-4</text>
<text class="t" x="368.85" y="281.4" text-anchor="middle">-3</text>
<text class="t" x="390.8" y="281.4" text-anchor="middle">-2</text>
<text class="t" x="412.75" y="281.4" text-anchor="middle">-1</text>
<text class="t" x="434.7" y="281.4" text-anchor="middle">0</text>
<text class="t" x="456.65" y="281.4" text-anchor="middle">1</text>
<text class="t" x="478.6" y="281.4" text-anchor="middle">2</text>
<text class="t" x="500.55" y="281.4" text-anchor="middle">3</text>
<text class="t" x="522.5" y="281.4" text-anchor="middle">4</text>
<text class="t" x="544.45" y="281.4" text-anchor="middle">5</text>
<text class="t" x="322.45" y="245.5" text-anchor="end">1000</text>
<text class="t" x="322.45" y="260.17" text-anchor="end">500</text>
<text class="t" x="322.45" y="274.85" text-anchor="end">0</text>
<text class="ti" x="434.7" y="242.35" text-anchor="middle">Radix-2<tspan class="sup" dy="-2.9">3</tspan><tspan dy="2.9">/Truncation/Chirp (noisy)</tspan></text>
</g>
<g>
<path class="axh" d="M324.6 292.5H544.8 M324.6 321.65H544.8"/>
<path class="axv" d="M324.95 292.5V321.65 M544.45 292.5V321.65"/>
<line class="tk" x1="346.9" y1="292.3" x2="346.9" y2="295"/>
<line class="tk" x1="346.9" y1="321.85" x2="346.9" y2="319.15"/>
<line class="tk" x1="368.85" y1="292.3" x2="368.85" y2="295"/>
<line class="tk" x1="368.85" y1="321.85" x2="368.85" y2="319.15"/>
<line class="tk" x1="390.8" y1="292.3" x2="390.8" y2="295"/>
<line class="tk" x1="390.8" y1="321.85" x2="390.8" y2="319.15"/>
<line class="tk" x1="412.75" y1="292.3" x2="412.75" y2="295"/>
<line class="tk" x1="412.75" y1="321.85" x2="412.75" y2="319.15"/>
<line class="tk" x1="434.7" y1="292.3" x2="434.7" y2="295"/>
<line class="tk" x1="434.7" y1="321.85" x2="434.7" y2="319.15"/>
<line class="tk" x1="456.65" y1="292.3" x2="456.65" y2="295"/>
<line class="tk" x1="456.65" y1="321.85" x2="456.65" y2="319.15"/>
<line class="tk" x1="478.6" y1="292.3" x2="478.6" y2="295"/>
<line class="tk" x1="478.6" y1="321.85" x2="478.6" y2="319.15"/>
<line class="tk" x1="500.55" y1="292.3" x2="500.55" y2="295"/>
<line class="tk" x1="500.55" y1="321.85" x2="500.55" y2="319.15"/>
<line class="tk" x1="522.5" y1="292.3" x2="522.5" y2="295"/>
<line class="tk" x1="522.5" y1="321.85" x2="522.5" y2="319.15"/>
<line class="tk" x1="324.75" y1="307.07" x2="327.45" y2="307.07"/>
<line class="tk" x1="544.65" y1="307.07" x2="541.95" y2="307.07"/>
<rect class="b" x="327" y="318.65" width="7.95" height="3.3"/>
<rect class="b" x="337.1" y="317.75" width="7.95" height="4.2"/>
<rect class="b" x="347.2" y="318.65" width="7.95" height="3.3"/>
<rect class="b" x="357.3" y="318.45" width="7.95" height="3.5"/>
<rect class="b" x="367.4" y="318.45" width="7.95" height="3.5"/>
<rect class="b" x="377.5" y="316.15" width="7.95" height="5.8"/>
<rect class="b" x="387.6" y="316.95" width="7.95" height="5"/>
<rect class="b" x="397.7" y="313.85" width="7.95" height="8.1"/>
<rect class="b" x="407.8" y="317.75" width="7.95" height="4.2"/>
<rect class="b" x="417.9" y="316.95" width="7.95" height="5"/>
<rect class="b" x="428" y="317.35" width="7.95" height="4.6"/>
<rect class="b" x="438.1" y="314.05" width="7.95" height="7.9"/>
<rect class="b" x="448.2" y="313.35" width="7.95" height="8.6"/>
<rect class="b" x="458.3" y="313.55" width="7.95" height="8.4"/>
<rect class="b" x="468.4" y="311.55" width="7.95" height="10.4"/>
<rect class="b" x="478.5" y="311.75" width="7.95" height="10.2"/>
<rect class="b" x="488.6" y="301.85" width="7.95" height="20.1"/>
<rect class="b" x="498.7" y="300.15" width="7.95" height="21.8"/>
<rect class="b" x="508.8" y="317.55" width="7.95" height="4.4"/>
<rect class="b" x="527" y="318.85" width="7.9" height="3.1"/>
<text class="t" x="324.95" y="330.1" text-anchor="middle">-5</text>
<text class="t" x="346.9" y="330.1" text-anchor="middle">-4</text>
<text class="t" x="368.85" y="330.1" text-anchor="middle">-3</text>
<text class="t" x="390.8" y="330.1" text-anchor="middle">-2</text>
<text class="t" x="412.75" y="330.1" text-anchor="middle">-1</text>
<text class="t" x="434.7" y="330.1" text-anchor="middle">0</text>
<text class="t" x="456.65" y="330.1" text-anchor="middle">1</text>
<text class="t" x="478.6" y="330.1" text-anchor="middle">2</text>
<text class="t" x="500.55" y="330.1" text-anchor="middle">3</text>
<text class="t" x="522.5" y="330.1" text-anchor="middle">4</text>
<text class="t" x="544.45" y="330.1" text-anchor="middle">5</text>
<text class="t" x="322.45" y="294.4" text-anchor="end">1000</text>
<text class="t" x="322.45" y="308.97" text-anchor="end">500</text>
<text class="t" x="322.45" y="323.55" text-anchor="end">0</text>
<text class="ti" x="434.7" y="291.25" text-anchor="middle">Radix-2<tspan class="sup" dy="-2.9">4</tspan><tspan dy="2.9">/Truncation/Chirp (noisy)</tspan></text>
</g>
<text class="ti" x="138.07" y="160.2" text-anchor="middle">SQNR Error (dB)</text>
<text class="ti" transform="translate(9.6 80.85) rotate(-90)" text-anchor="middle">Counts (times)</text>
<text class="cap" x="127" y="174.3" textLength="12" lengthAdjust="spacingAndGlyphs">(a)</text>
<text class="ti" x="434.8" y="160.2" text-anchor="middle">SQNR Error (dB)</text>
<text class="ti" transform="translate(307.7 80.85) rotate(-90)" text-anchor="middle">Counts (times)</text>
<text class="cap" x="422.9" y="174.3" textLength="13.8" lengthAdjust="spacingAndGlyphs">(d)</text>
<text class="ti" x="138.07" y="337.9" text-anchor="middle">SQNR Error (dB)</text>
<text class="ti" transform="translate(9.6 258.55) rotate(-90)" text-anchor="middle">Counts (times)</text>
<text class="cap" x="125.85" y="352" textLength="13.5" lengthAdjust="spacingAndGlyphs">(b)</text>
<text class="ti" x="434.8" y="337.9" text-anchor="middle">SQNR Error (dB)</text>
<text class="ti" transform="translate(307.7 258.55) rotate(-90)" text-anchor="middle">Counts (times)</text>
<text class="cap" x="424.1" y="352" textLength="11.8" lengthAdjust="spacingAndGlyphs">(e)</text>
</svg>
</body></html>
